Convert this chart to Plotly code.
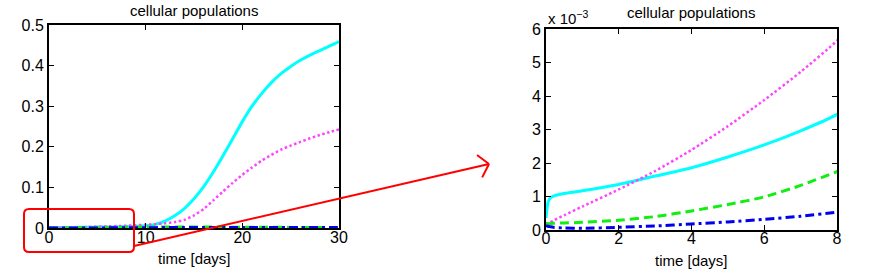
import numpy as np
import plotly.graph_objects as go

# ---------------- data ----------------
t_days = [0, 0.05, 0.1, 0.2, 0.5, 1, 2, 3, 4, 5, 6, 7, 8, 9, 10, 11, 12, 13, 14, 15,
          16, 17, 18, 19, 20, 21, 22, 23, 24, 25, 26, 27, 28, 29, 30]

cyan_pop = [0.36e-3, 0.80e-3, 0.93e-3, 1.01e-3, 1.09e-3, 1.17e-3, 1.36e-3, 1.61e-3, 1.86e-3,
            2.18e-3, 2.54e-3, 2.96e-3, 3.45e-3, 0.0042, 0.0056, 0.0090, 0.017, 0.030, 0.048,
            0.072, 0.102, 0.138, 0.178, 0.220, 0.262, 0.300, 0.331, 0.358, 0.380, 0.398,
            0.413, 0.426, 0.437, 0.448, 0.459]

magenta_pop = [0.17e-3, 0.20e-3, 0.22e-3, 0.28e-3, 0.44e-3, 0.70e-3, 1.21e-3, 1.76e-3, 2.39e-3,
               3.10e-3, 3.88e-3, 4.72e-3, 5.65e-3, 0.0068, 0.0080, 0.0095, 0.0115, 0.0145, 0.020,
               0.031, 0.047, 0.068, 0.090, 0.111, 0.131, 0.149, 0.166, 0.180, 0.193, 0.203,
               0.212, 0.221, 0.229, 0.236, 0.243]

green_pop = [0.19e-3, 0.19e-3, 0.19e-3, 0.20e-3, 0.21e-3, 0.23e-3, 0.29e-3, 0.40e-3, 0.57e-3,
             0.76e-3, 0.99e-3, 1.33e-3, 1.74e-3, 0.0021, 0.0024, 0.0026, 0.0027, 0.0027, 0.0026,
             0.0025, 0.0024, 0.0023, 0.0022, 0.0021, 0.0020, 0.0019, 0.0018, 0.0017, 0.0016,
             0.0015, 0.0014, 0.0013, 0.0012, 0.0011, 0.0010]

blue_pop = [0.13e-3, 0.11e-3, 0.10e-3, 0.08e-3, 0.06e-3, 0.05e-3, 0.08e-3, 0.12e-3, 0.18e-3,
            0.24e-3, 0.32e-3, 0.41e-3, 0.53e-3, 0.00066, 0.0008, 0.0009, 0.0010, 0.0010, 0.0010,
            0.0010, 0.0010, 0.0010, 0.0010, 0.0010, 0.0010, 0.0010, 0.0010, 0.0010, 0.0010,
            0.0010, 0.0010, 0.0010, 0.0010, 0.0010, 0.0010]

left_xticks = [0, 10, 20, 30]
left_yticks = [0, 0.1, 0.2, 0.3, 0.4, 0.5]
right_xticks = [0, 2, 4, 6, 8]
right_yticks = [0, 0.001, 0.002, 0.003, 0.004, 0.005, 0.006]
right_yticklabels = ["0", "1", "2", "3", "4", "5", "6"]

title_text = "cellular populations"
xlabel_text = "time [days]"

# ---------------- figure ----------------
W, H = 872, 269
FONT = "Liberation Sans, Arial, sans-serif"


def px(x):
    return x / W


def py(y):
    return 1 - y / H


series = [
    (cyan_pop, dict(color="#00FFFF", width=3)),
    (magenta_pop, dict(color="#FF44FF", width=2.5, dash="2.5px,2.5px")),
    (green_pop, dict(color="#11EE11", width=3, dash="9px,5px")),
    (blue_pop, dict(color="#0000EE", width=3, dash="9px,4px,3px,4px")),
]

fig = go.Figure()
for xa, ya in [("x", "y"), ("x2", "y2")]:
    for vals, line in series:
        fig.add_trace(go.Scatter(x=t_days, y=vals, mode="lines",
                                 line=dict(shape="spline", smoothing=0.6, **line),
                                 xaxis=xa, yaxis=ya, showlegend=False, hoverinfo="skip"))

axis_common = dict(showline=True, linecolor="black", linewidth=2, mirror="ticks",
                   ticks="inside", ticklen=5, tickwidth=1, tickcolor="black",
                   showgrid=False, zeroline=False, automargin=False,
                   tickfont=dict(family=FONT, size=16, color="black"))

fig.update_layout(
    width=W, height=H,
    margin=dict(l=0, r=0, t=0, b=0, pad=0, autoexpand=False),
    paper_bgcolor="white", plot_bgcolor="white",
    showlegend=False,
    xaxis=dict(domain=[px(49), px(339)], range=[0, 30], tickvals=left_xticks,
               anchor="y", ticklabelstandoff=-6, **axis_common),
    yaxis=dict(domain=[py(228), py(25)], range=[0, 0.5], tickvals=left_yticks,
               anchor="x", **axis_common),
    xaxis2=dict(domain=[px(546), px(837)], range=[0, 8], tickvals=right_xticks,
                anchor="y2", ticklabelstandoff=-7, **axis_common),
    yaxis2=dict(domain=[py(230), py(29)], range=[0, 0.006], tickvals=right_yticks,
                ticktext=right_yticklabels, anchor="x2", **axis_common),
)

# titles / labels
ann_font = dict(family=FONT, size=15, color="black")
for cx, ty, ly in [(194, 10, 258), (691, 12, 260)]:
    fig.add_annotation(x=px(cx), y=py(ty), xref="paper", yref="paper", text=title_text,
                       showarrow=False, font=ann_font, xanchor="center", yanchor="middle")
    fig.add_annotation(x=px(cx), y=py(ly), xref="paper", yref="paper", text=xlabel_text,
                       showarrow=False, font=ann_font, xanchor="center", yanchor="middle")

fig.add_annotation(x=px(546), y=py(29), xref="paper", yref="paper",
                   text="x 10<sup>\u22123</sup>", showarrow=False,
                   font=dict(family=FONT, size=15, color="black"),
                   xanchor="left", yanchor="bottom")

# red rounded box
x0, x1, y0, y1, r = 24, 134, 209, 252, 5
path = (f"M {px(x0 + r)},{py(y0)} L {px(x1 - r)},{py(y0)} "
        f"Q {px(x1)},{py(y0)} {px(x1)},{py(y0 + r)} L {px(x1)},{py(y1 - r)} "
        f"Q {px(x1)},{py(y1)} {px(x1 - r)},{py(y1)} L {px(x0 + r)},{py(y1)} "
        f"Q {px(x0)},{py(y1)} {px(x0)},{py(y1 - r)} L {px(x0)},{py(y0 + r)} "
        f"Q {px(x0)},{py(y0)} {px(x0 + r)},{py(y0)} Z")
fig.add_shape(type="path", path=path, xref="paper", yref="paper",
              line=dict(color="red", width=2))

# red arrow
tail = np.array([134.0, 246.0])
tip = np.array([489.0, 164.0])
fig.add_shape(type="line", xref="paper", yref="paper",
              x0=px(tail[0]), y0=py(tail[1]), x1=px(tip[0]), y1=py(tip[1]),
              line=dict(color="red", width=2))
back = (tail - tip) / np.linalg.norm(tail - tip)
for ang in (np.deg2rad(50), np.deg2rad(-50)):
    rot = np.array([[np.cos(ang), -np.sin(ang)], [np.sin(ang), np.cos(ang)]])
    end = tip + 15 * rot @ back
    fig.add_shape(type="line", xref="paper", yref="paper",
                  x0=px(tip[0]), y0=py(tip[1]), x1=px(end[0]), y1=py(end[1]),
                  line=dict(color="red", width=2))

fig.write_html("out.html",
               config={"displayModeBar": False},
               post_script="document.body.style.margin='0px';"
                           "document.body.style.overflow='hidden';")
